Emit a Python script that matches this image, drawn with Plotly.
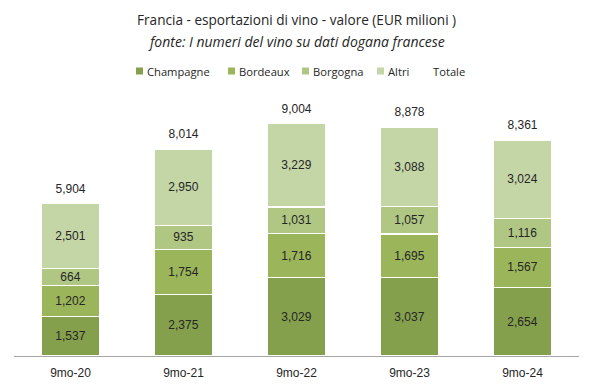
import plotly.graph_objects as go

categories = ["9mo-20", "9mo-21", "9mo-22", "9mo-23", "9mo-24"]
champagne = [1537, 2375, 3029, 3037, 2654]
bordeaux = [1202, 1754, 1716, 1695, 1567]
borgogna = [664, 935, 1031, 1057, 1116]
altri = [2501, 2950, 3229, 3088, 3024]
totale = [5904, 8014, 9004, 8878, 8361]

series_names = ["Champagne", "Bordeaux", "Borgogna", "Altri"]
series_vals = [champagne, bordeaux, borgogna, altri]
series_colors = ["#84A04D", "#9BB55B", "#AFC783", "#C4D5A6"]

label_font = "Liberation Sans, Arial, sans-serif"
title_font = "Open Sans, sans-serif"

# page offset of the figure (default body margin)
OFF = 8
W, H = 594, 390
# target screen geometry of plot area
SL, SR, ST, SB = 14, 579, 98, 356
ML, MT = SL - OFF, ST - OFF
MR = W - (SR - OFF)
MB = H - (SB - OFF)
PW, PH = W - ML - MR, H - MT - MB


def px_x(px):
    return (px - SL) / PW


def px_y(py):
    return (SB - py) / PH


fig = go.Figure()
for name, vals, color in zip(series_names, series_vals, series_colors):
    fig.add_trace(go.Bar(
        x=categories, y=vals, name=name,
        marker=dict(color=color, line=dict(color="white", width=1.2)),
        texttemplate="%{y:,.0f}", textposition="inside",
        insidetextanchor="middle",
        textfont=dict(color="#262626", size=12, family=label_font),
        constraintext="none", showlegend=False,
    ))

fig.add_trace(go.Scatter(
    x=categories, y=totale, name="Totale", mode="markers+text",
    marker=dict(color="rgba(0,0,0,0)", size=11),
    text=[f"{v:,}" for v in totale], textposition="top center",
    textfont=dict(color="#262626", size=12, family=label_font),
    cliponaxis=False, showlegend=False,
))

annotations = [
    dict(text="Francia - esportazioni di vino - valore (EUR milioni )", x=px_x(296), y=px_y(20),
         xref="paper", yref="paper", showarrow=False, yanchor="middle",
         font=dict(size=13.6, color="#262626", family=title_font)),
    dict(text="<i>fonte: I numeri del vino su dati dogana francese</i>", x=px_x(296), y=px_y(41),
         xref="paper", yref="paper", showarrow=False, yanchor="middle",
         font=dict(size=14, color="#262626", family=title_font)),
]
shapes = []
legend_items = [("Champagne", series_colors[0], 136), ("Bordeaux", series_colors[1], 228),
                ("Borgogna", series_colors[2], 302), ("Altri", series_colors[3], 377),
                ("Totale", None, 422)]
leg_y = 71
for name, color, mx in legend_items:
    if color:
        shapes.append(dict(type="rect", xref="paper", yref="paper",
                           x0=px_x(mx), x1=px_x(mx + 7), y0=px_y(leg_y + 3.5), y1=px_y(leg_y - 3.5),
                           fillcolor=color, line=dict(width=0)))
    annotations.append(dict(text=name, x=px_x(mx + 9), y=px_y(leg_y), xref="paper", yref="paper",
                            xanchor="left", yanchor="middle", showarrow=False,
                            font=dict(size=11.2, color="#262626", family=title_font)))

fig.update_layout(
    width=W, height=H,
    barmode="stack", bargap=0.49,
    plot_bgcolor="white", paper_bgcolor="white",
    margin=dict(l=ML, r=MR, t=MT, b=MB, autoexpand=False),
    font=dict(family=label_font, size=12, color="#262626"),
    showlegend=False,
    annotations=annotations,
    shapes=shapes,
    xaxis=dict(showline=True, linecolor="#A6A6A6", linewidth=1, ticks="", automargin=False,
               ticklabelstandoff=6,
               tickfont=dict(size=12, color="#262626", family=label_font), showgrid=False),
    yaxis=dict(range=[0, 10000], visible=False, showgrid=False, automargin=False),
)

fig.write_html("out.html")
